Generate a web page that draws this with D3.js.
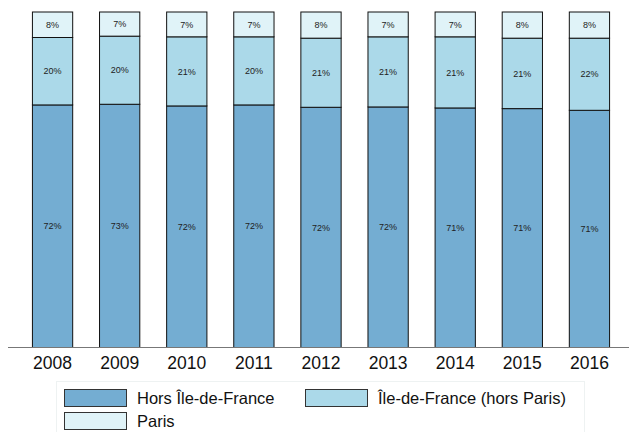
<!DOCTYPE html>
<html>
<head>
<meta charset="utf-8">
<script src="https://cdn.jsdelivr.net/npm/d3@7"></script>
<style>
  body { margin: 0; background: #fff; }
  svg { display: block; font-family: "Liberation Sans", Arial, sans-serif; }
</style>
</head>
<body>
<script>
const years = ['2008', '2009', '2010', '2011', '2012', '2013', '2014', '2015', '2016'];
const seriesNames = ['Hors Île-de-France', 'Île-de-France (hors Paris)', 'Paris'];
const horsIdf = [72.3, 72.5, 72.0, 72.3, 71.6, 71.7, 71.4, 71.2, 70.7];
const idfHorsParis = [20.1, 20.3, 20.6, 20.3, 20.6, 20.9, 21.2, 21.0, 21.5];
const paris = [7.6, 7.2, 7.4, 7.4, 7.8, 7.4, 7.4, 7.8, 7.8];
const colors = ['#74add2', '#abd9e9', '#e0f3f8'];

const width = 629;
const height = 432;
const svg = d3.select('body')
    .append('svg')
    .attr('width', width)
    .attr('height', height);

const rows = years.map((y, i) => ({year: y, hors: horsIdf[i], idf: idfHorsParis[i], paris: paris[i]}));
const keys = ['hors', 'idf', 'paris'];
const stack = d3.stack().keys(keys)(rows);

const x = d3.scaleBand()
    .domain(years)
    .range([19, 623])
    .paddingInner(0.4)
    .paddingOuter(0.2);

const y = d3.scaleLinear()
    .domain([0, 100])
    .range([347.5, 12]);

const layers = svg.append('g')
    .selectAll('g')
    .data(stack)
    .join('g')
    .attr('fill', (d, i) => colors[i]);

layers.selectAll('rect')
    .data(d => d)
    .join('rect')
    .attr('x', d => x(d.data.year))
    .attr('y', d => y(d[1]))
    .attr('width', x.bandwidth())
    .attr('height', d => y(d[0]) - y(d[1]))
    .attr('stroke', '#111')
    .attr('stroke-width', 1);

layers.selectAll('text')
    .data(d => d)
    .join('text')
    .attr('x', d => x(d.data.year) + x.bandwidth() / 2)
    .attr('y', d => (y(d[0]) + y(d[1])) / 2)
    .attr('dy', '0.35em')
    .attr('text-anchor', 'middle')
    .attr('fill', '#222')
    .style('font-size', '9px')
    .text(d => Math.round(d[1] - d[0]) + '%');

// x axis
const xAxis = svg.append('g')
    .attr('transform', `translate(0, ${y(0)})`)
    .call(d3.axisBottom(x).tickSize(0).tickPadding(9));
xAxis.select('.domain').remove();
xAxis.append('line')
    .attr('x1', 8)
    .attr('x2', width)
    .attr('stroke', '#777')
    .attr('stroke-width', 1.2);
xAxis.selectAll('.tick text')
    .attr('fill', '#111')
    .style('font-family', '"Liberation Sans", Arial, sans-serif')
    .style('font-size', '17.5px');

// legend
const legend = svg.append('g');
legend.append('rect')
    .attr('x', 56.5)
    .attr('y', 381.5)
    .attr('width', 528)
    .attr('height', 60)
    .attr('fill', 'none')
    .attr('stroke', '#eef2f2');

const legendPos = [[64, 389], [305, 389], [64, 412]];
const items = legend.selectAll('g.item')
    .data(seriesNames)
    .join('g')
    .attr('class', 'item')
    .attr('transform', (d, i) => `translate(${legendPos[i][0]}, ${legendPos[i][1]})`);

items.append('rect')
    .attr('x', 0.5)
    .attr('y', 0.5)
    .attr('width', 62)
    .attr('height', 17)
    .attr('fill', (d, i) => colors[i])
    .attr('stroke', '#333');

items.append('text')
    .attr('x', 73)
    .attr('y', 14.5)
    .attr('fill', '#111')
    .style('font-size', '16.5px')
    .text(d => d);
</script>
</body>
</html>
